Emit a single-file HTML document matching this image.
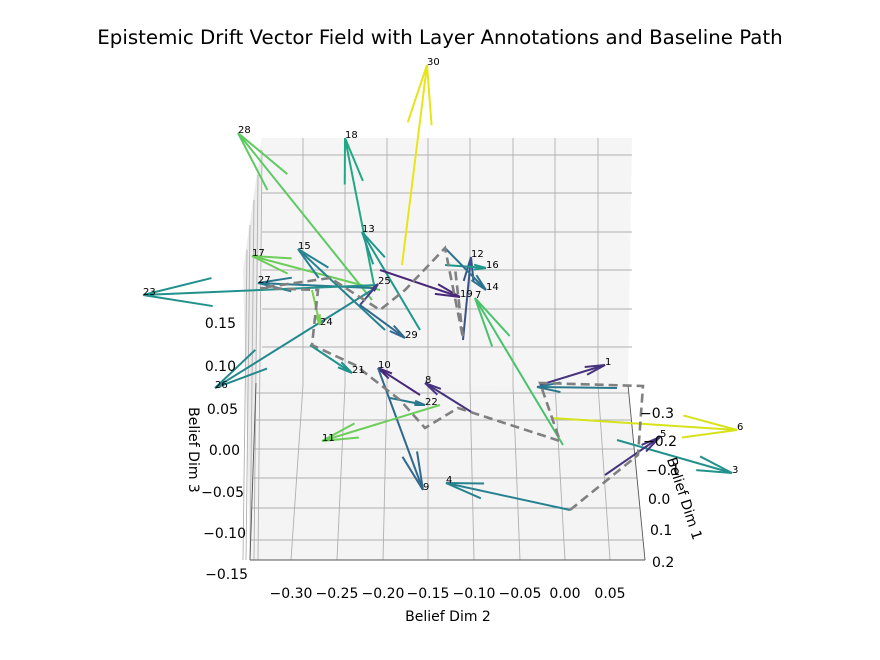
<!DOCTYPE html>
<html><head><meta charset="utf-8"><style>
html,body{margin:0;padding:0;background:#fff;}
svg{display:block;font-family:"DejaVu Sans","Liberation Sans",sans-serif;}
</style></head><body>
<svg id="s" width="880" height="660" viewBox="0 0 880 660" xmlns="http://www.w3.org/2000/svg">
<rect width="880" height="660" fill="#fff"/>
<text x="440" y="44" font-size="19.8" text-anchor="middle">Epistemic Drift Vector Field with Layer Annotations and Baseline Path</text>
<polygon points="262,138 632,138 628,385 256,383" fill="#f5f5f5"/>
<polygon points="256,383 628,385 645,560 250,560" fill="#f4f4f4"/>
<polygon points="262,138 256,383 250,560 243,270" fill="#ececec"/>
<g stroke="#b0b0b0" stroke-width="0.9" fill="none" id="grid"></g>
<g id="arrows" stroke-width="2" fill="none"></g>
<polyline points="570,510 638,455 643,386 540,383 560,441 458,408 425,428 400,400 355,365 312,345 318,290 260,288 330,278 380,310 405,290 445,248 463,338 455,268" fill="none" stroke="#808080" stroke-width="2.6" stroke-dasharray="9,5"/>
<g id="labels" font-size="10"></g>
<g font-size="14" text-anchor="middle">
<text x="291" y="598">−0.30</text><text x="337" y="598">−0.25</text><text x="383" y="598">−0.20</text><text x="428" y="598">−0.15</text><text x="474" y="598">−0.10</text><text x="520" y="598">−0.05</text><text x="565" y="598">0.00</text><text x="610" y="598">0.05</text>
</g>
<text x="448" y="621" font-size="14" text-anchor="middle">Belief Dim 2</text>
<g font-size="14" text-anchor="end">
<text x="236" y="328">0.15</text><text x="236" y="371">0.10</text><text x="238" y="414">0.05</text><text x="240" y="455">0.00</text><text x="244" y="497">−0.05</text><text x="246" y="538">−0.10</text><text x="248" y="579">−0.15</text>
</g>
<text font-size="14" text-anchor="middle" transform="translate(189,450) rotate(90)">Belief Dim 3</text>
<g font-size="14">
<text x="640" y="418">−0.3</text><text x="643" y="446">−0.2</text><text x="646" y="475">−0.1</text><text x="648" y="504">0.0</text><text x="650" y="535">0.1</text><text x="652" y="567">0.2</text>
</g>
<text font-size="14" text-anchor="middle" transform="translate(680,500) rotate(72)">Belief Dim 1</text>
</svg>
<script>
var NS="http://www.w3.org/2000/svg";
function el(p,t,a){var e=document.createElementNS(NS,t);for(var k in a)e.setAttribute(k,a[k]);p.appendChild(e);return e;}
var g=document.getElementById("grid");
[155,193,232,270,309,347].forEach(function(y){el(g,"line",{x1:262,y1:y,x2:632,y2:y});});
[262,258,254,250,247].forEach(function(x,i){el(g,"line",{x1:x,y1:150+i*25,x2:x-4,y2:560});});
var bx=[303,345,387,428,470,513,555,598],fx=[291,337,383,428,474,520,565,610];
for(var i=0;i<8;i++){el(g,"line",{x1:bx[i],y1:138,x2:bx[i],y2:385});el(g,"line",{x1:bx[i],y1:385,x2:fx[i],y2:560});}
[393,420,449,478,508,540].forEach(function(y){var t=(y-385)/175;el(g,"line",{x1:256-6*t,y1:y,x2:628+17*t,y2:y});});
el(g,"line",{x1:256,y1:383,x2:250,y2:560,stroke:"#555"});el(g,"line",{x1:250,y1:560,x2:645,y2:560,stroke:"#555"});
el(g,"line",{x1:628,y1:385,x2:645,y2:560,stroke:"#555"});
var A=[
["30",427,65,402,265,"#e7e419"],["28",238,133,372,300,"#5ec962"],["18",345,138,375,290,"#22a884"],
["13",362,232,420,330,"#1f988b"],["17",252,256,380,290,"#6ccd5a"],["15",298,249,385,330,"#26828e"],
["27",258,283,372,288,"#2a788e"],["23",143,295,378,285,"#21918c"],["26",215,388,372,290,"#23898e"],
["12",471,257,463,340,"#3b528b"],["16",486,268,445,265,"#1f988b"],["14",486,290,445,248,"#2c728e"],
["19",460,297,380,270,"#482878"],["25",378,284,360,305,"#433e85"],["24",320,325,312,290,"#7ad151"],
["29",405,338,360,305,"#31688e"],["10",378,368,420,395,"#482878"],["9",423,490,378,368,"#31688e"],
["21",352,373,310,345,"#20928c"],["22",425,405,390,398,"#2a788e"],["8",425,383,473,413,"#46337e"],
["11",322,441,440,405,"#6ccd5a"],["4",446,483,570,510,"#26828e"],["1",605,365,540,385,"#46337e"],
["3",732,473,617,440,"#21918c"],["6",737,430,552,418,"#d7e219"],["7",475,298,563,445,"#4ac16d"],
["5",660,437,605,475,"#46337e"],["",537,387,617,388,"#2a788e"]];
var ag=document.getElementById("arrows"),lg=document.getElementById("labels");
A.forEach(function(a){var tx=a[1],ty=a[2],sx=a[3],sy=a[4];
el(ag,"line",{x1:sx,y1:sy,x2:tx,y2:ty,stroke:a[5]});
var dx=sx-tx,dy=sy-ty,L=Math.hypot(dx,dy)*0.3,an=Math.atan2(dy,dx);
[0.2,-0.2].forEach(function(d){el(ag,"line",{x1:tx,y1:ty,x2:tx+L*Math.cos(an+d),y2:ty+L*Math.sin(an+d),stroke:a[5]});});
if(a[0]){var t=el(lg,"text",{x:tx,y:ty});t.textContent=a[0];}});
</script>
</body></html>
